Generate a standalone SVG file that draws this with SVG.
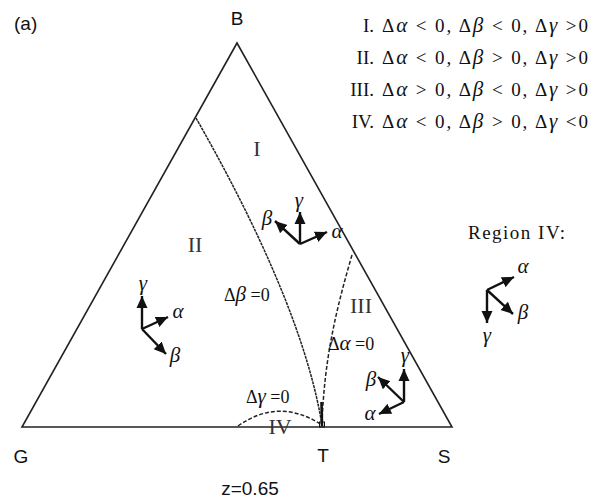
<svg xmlns="http://www.w3.org/2000/svg" width="599" height="499" viewBox="0 0 599 499">
<defs>
<marker id="ah" markerUnits="userSpaceOnUse" markerWidth="14" markerHeight="14" viewBox="0 0 14 14" refX="12" refY="7" orient="auto">
<path d="M0,1.5 L12,7 L0,12.5 Z" fill="#111"/>
</marker>
<style>
.edge{fill:none;stroke:#222;stroke-width:1.6}
.arr{stroke:#111;stroke-width:2.4;fill:none;marker-end:url(#ah)}
.sans{font-family:"Liberation Sans",Arial,sans-serif;font-size:19px;fill:#111}
.gk{font-family:"Liberation Serif","Times New Roman",serif;font-style:italic;font-size:21px;fill:#111}
.lb{font-family:"Liberation Serif","Times New Roman",serif;font-size:18px;fill:#111}
.rn{font-family:"Liberation Serif","Times New Roman",serif;font-size:22px;fill:#333}
.leg{font-family:"Liberation Serif","Times New Roman",serif;font-size:19px;fill:#111}
.it{font-style:italic;font-size:21px}
.bd{fill:none;stroke:#222;stroke-width:1.5}
</style>
</defs>
<rect width="599" height="499" fill="#fff"/>
<text class="sans" x="14" y="30">(a)</text>
<g id="triangle">
<path class="edge" d="M237,43 L452,427 L22,427 Z"/>
<text class="sans" x="237" y="25" text-anchor="middle">B</text>
<text class="sans" x="21" y="463" text-anchor="middle">G</text>
<text class="sans" x="323" y="462" text-anchor="middle">T</text>
<text class="sans" x="444" y="463" text-anchor="middle">S</text>
<text class="sans" x="250" y="495" text-anchor="middle" font-size="20">z=0.65</text>
</g>
<g id="connectors">
<path class="bd" d="M196,118 C240,195 305,320 322,425" stroke-dasharray="3,0.8"/>
<path class="bd" d="M352,255 C336,310 324,360 322,425" stroke-dasharray="4,2"/>
<path class="bd" d="M238,426 Q279,397 322,425" stroke-dasharray="4,2"/>
<line x1="321.5" y1="402" x2="322" y2="426" stroke="#111" stroke-width="2.6"/>
<rect x="319.5" y="422" width="5" height="5" fill="none" stroke="#111" stroke-width="1"/>
</g>
<g id="boundary-labels">
<text class="lb" x="224" y="301">Δ<tspan class="it">β</tspan> =0</text>
<text class="lb" x="328" y="350">Δ<tspan class="it">α</tspan> =0</text>
<text class="lb" x="246" y="403">Δ<tspan class="it">γ</tspan> =0</text>
</g>
<g id="region-I">
<text class="rn" x="257" y="156" text-anchor="middle">I</text>
<line class="arr" x1="300" y1="244" x2="300" y2="212"/>
<line class="arr" x1="300" y1="244" x2="275" y2="221"/>
<line class="arr" x1="300" y1="244" x2="327" y2="232"/>
<text class="gk" x="299" y="207" text-anchor="middle">γ</text>
<text class="gk" x="267" y="225" text-anchor="middle">β</text>
<text class="gk" x="337" y="238" text-anchor="middle">α</text>
</g>
<g id="region-II">
<text class="rn" x="195" y="252" text-anchor="middle">II</text>
<line class="arr" x1="142" y1="329" x2="142" y2="296"/>
<line class="arr" x1="142" y1="329" x2="168" y2="317"/>
<line class="arr" x1="142" y1="329" x2="166" y2="354"/>
<text class="gk" x="143" y="290" text-anchor="middle">γ</text>
<text class="gk" x="178" y="318" text-anchor="middle">α</text>
<text class="gk" x="175" y="362" text-anchor="middle">β</text>
</g>
<g id="region-III">
<text class="rn" x="361" y="313" text-anchor="middle">III</text>
<line class="arr" x1="404" y1="402" x2="404" y2="369"/>
<line class="arr" x1="404" y1="402" x2="378" y2="377"/>
<line class="arr" x1="404" y1="402" x2="379" y2="414"/>
<text class="gk" x="405" y="362" text-anchor="middle">γ</text>
<text class="gk" x="371" y="386" text-anchor="middle">β</text>
<text class="gk" x="370" y="420" text-anchor="middle">α</text>
</g>
<g id="region-IV">
<text class="rn" x="280" y="434" text-anchor="middle">IV</text>
</g>
<g id="region-IV-legend">
<text class="leg" x="468" y="239" textLength="97" lengthAdjust="spacing">Region IV:</text>
<line class="arr" x1="487" y1="290" x2="514" y2="277"/>
<line class="arr" x1="487" y1="290" x2="513" y2="314"/>
<line class="arr" x1="487" y1="290" x2="487" y2="323"/>
<text class="gk" x="523" y="273" text-anchor="middle">α</text>
<text class="gk" x="523" y="319" text-anchor="middle">β</text>
<text class="gk" x="487" y="342" text-anchor="middle">γ</text>
</g>
<g id="legend">
<text class="leg" x="374" y="32" text-anchor="end">I.</text>
<text class="leg" x="382" y="32" textLength="206" lengthAdjust="spacing">Δ<tspan class="it">α</tspan> &lt; 0, Δ<tspan class="it">β</tspan> &lt; 0, Δ<tspan class="it">γ</tspan> &gt;0</text>
<text class="leg" x="374" y="64" text-anchor="end">II.</text>
<text class="leg" x="382" y="64" textLength="206" lengthAdjust="spacing">Δ<tspan class="it">α</tspan> &lt; 0, Δ<tspan class="it">β</tspan> &gt; 0, Δ<tspan class="it">γ</tspan> &gt;0</text>
<text class="leg" x="374" y="96" text-anchor="end">III.</text>
<text class="leg" x="382" y="96" textLength="206" lengthAdjust="spacing">Δ<tspan class="it">α</tspan> &gt; 0, Δ<tspan class="it">β</tspan> &lt; 0, Δ<tspan class="it">γ</tspan> &gt;0</text>
<text class="leg" x="374" y="128" text-anchor="end">IV.</text>
<text class="leg" x="382" y="128" textLength="206" lengthAdjust="spacing">Δ<tspan class="it">α</tspan> &lt; 0, Δ<tspan class="it">β</tspan> &gt; 0, Δ<tspan class="it">γ</tspan> &lt;0</text>
</g>
</svg>
